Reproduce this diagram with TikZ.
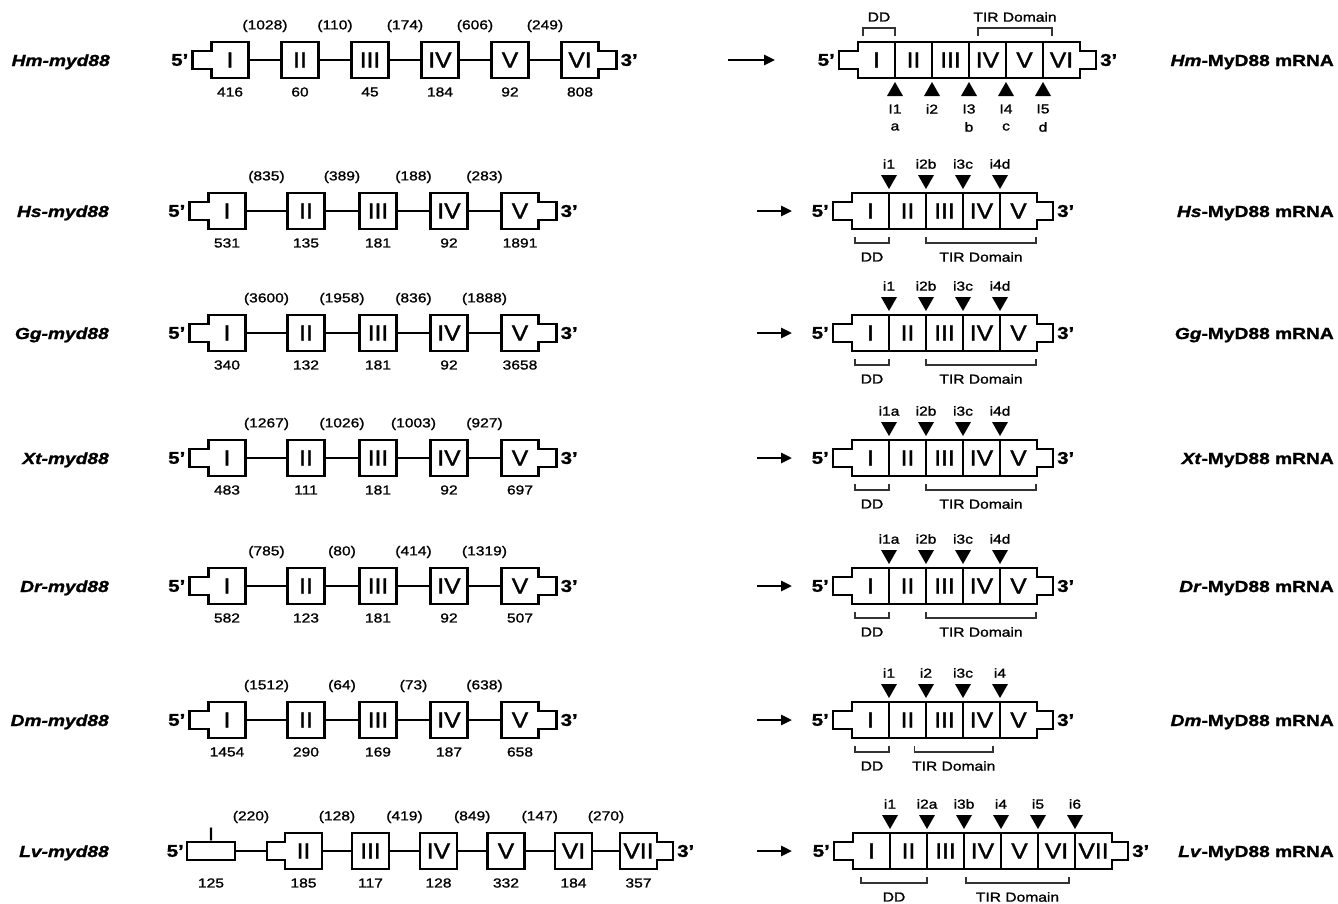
\documentclass[tikz,border=0pt]{standalone}
\usepackage{fontspec}
\setmainfont[FakeStretch=1.2, FakeBold=1.3]{Liberation Sans}
\newfontfamily\romanfam[FakeStretch=1.12, FakeBold=1.5]{Liberation Sans}
\usetikzlibrary{calc,arrows.meta}
\newcommand\romanf{\romanfam\fontsize{22}{22}\selectfont}
\newcommand\numf{\fontsize{13}{13}\selectfont}
\newcommand\labf{\fontsize{16}{16}\selectfont\bfseries}
\newcommand\smallf{\fontsize{13}{13}\selectfont}
\newcommand\primef{\fontsize{17}{17}\selectfont\bfseries}
\newcommand\lvtickf{\romanfam\fontsize{18}{18}\selectfont}
\tikzset{
 exon/.style={rectangle, draw, line width=2.8pt, minimum width=37pt, minimum height=36pt, inner sep=0pt, outer sep=0pt, font=\romanf},
 exonopen/.style={exon, draw=none},
 cell/.style={rectangle, minimum width=37pt, minimum height=36pt, inner sep=0pt, outer sep=0pt, font=\romanf},
 thinex/.style={rectangle, draw, line width=2.8pt, minimum width=48pt, minimum height=18pt, inner sep=0pt, outer sep=0pt},
 outl/.style={line width=2.8pt, line join=miter},
 divl/.style={line width=2.3pt},
 intronline/.style={line width=2.8pt},
 num/.style={font=\numf, inner sep=0pt},
 small/.style={font=\smallf, inner sep=0pt},
 prime/.style={font=\primef, inner sep=0pt},
 glab/.style={font=\labf\itshape, inner sep=0pt, anchor=base east},
 mlab/.style={font=\labf, inner sep=0pt, anchor=base east},
 brk/.style={line width=1.7pt, black!80},
 tri/.style={fill=black},
 arr/.style={line width=2.6pt, -{Triangle[length=11pt,width=10pt]}},
}
% gene exon with number below
\newcommand\gx[6][exon]{\node[#1] (#2) at (#3,#4) {#5}; \node[num] (#2-n) at ($(#2.center)+(0,32)$) {#6};}
% intron line with label
\newcommand\gi[3]{\draw[intronline] (#1.east) -- (#2.west); \node[num] (#1-i) at ($(#1.center)!0.5!(#2.center)+(0,-34)$) {#3};}
\newcommand\lstub[2]{\draw[outl] ($(#1.west)+(-#2,-9)$) -- ($(#1.west)+(0,-9)$) -- (#1.north west) -- (#1.north east) -- (#1.south east) -- (#1.south west) -- ($(#1.west)+(0,9)$) -- ($(#1.west)+(-#2,9)$) -- cycle;}
\newcommand\rstub[2]{\draw[outl] ($(#1.east)+(#2,-9)$) -- ($(#1.east)+(0,-9)$) -- (#1.north east) -- (#1.north west) -- (#1.south west) -- (#1.south east) -- ($(#1.east)+(0,9)$) -- ($(#1.east)+(#2,9)$) -- cycle;}
\newcommand\gends[2]{\lstub{#1}{19}\rstub{#2}{18}%
 \node[prime,anchor=east] (#1-5p) at ($(#1.west)+(-23,0)$) {5’};%
 \node[prime,anchor=west] (#2-3p) at ($(#2.east)+(22,0)$) {3’};}
\newcommand\fivegene[7]{%
 \gx[exonopen]{#1-g1}{227}{#2}{I}{#3}
 \gx{#1-g2}{306}{#2}{II}{#4}
 \gx{#1-g3}{378}{#2}{III}{#5}
 \gx{#1-g4}{449}{#2}{IV}{#6}
 \gx[exonopen]{#1-g5}{520}{#2}{V}{#7}
 \gends{#1-g1}{#1-g5}}
\newcommand\fiveint[5]{\gi{#1-g1}{#1-g2}{#2}\gi{#1-g2}{#1-g3}{#3}\gi{#1-g3}{#1-g4}{#4}\gi{#1-g4}{#1-g5}{#5}}
% mRNA
\newcommand\mrna[5]{%
 \foreach \rn [count=\ci] in {#4} {\node[cell] (#1-m\ci) at ({#2+37*\ci-18.5},#3) {\rn};}
 \draw[outl] ($(#1-m1.west)+(-19,-9)$) -- ($(#1-m1.west)+(0,-9)$) -- (#1-m1.north west) -- (#1-m#5.north east) -- ($(#1-m#5.east)+(0,-9)$) -- ($(#1-m#5.east)+(16,-9)$) -- ($(#1-m#5.east)+(16,9)$) -- ($(#1-m#5.east)+(0,9)$) -- (#1-m#5.south east) -- (#1-m1.south west) -- ($(#1-m1.west)+(0,9)$) -- ($(#1-m1.west)+(-19,9)$) -- cycle;
 \pgfmathtruncatemacro\mlast{#5-1}
 \foreach \ci in {1,...,\mlast} {\draw[divl] (#1-m\ci.north east) -- (#1-m\ci.south east);}
 \node[prime,anchor=east] (#1-m5p) at ($(#1-m1.west)+(-23,0)$) {5’};
 \node[prime,anchor=west] (#1-m3p) at ($(#1-m#5.east)+(20,0)$) {3’};}
\newcommand\tdown[3]{\fill[tri] ($(#1)+(0,-4)$) -- ++(-8,-14) -- ++(16,0) -- cycle; \node[small] (#3) at ($(#1)+(0,-29)$) {#2};}
\newcommand\tup[3]{\fill[tri] ($(#1)+(0,4)$) -- ++(-8,14) -- ++(16,0) -- cycle; \node[small] (#3) at ($(#1)+(0,31)$) {#2};}
\newcommand\bbrk[4]{\coordinate (#1-a) at #2; \coordinate (#1-b) at #3; \draw[brk] (#1-a) -- ++(0,6) -| (#1-b); \node[small] (#1) at ($(#1-a)!0.5!(#1-b)+(0,20)$) {#4};}
\newcommand\abrk[4]{\coordinate (#1-a) at #2; \coordinate (#1-b) at #3; \draw[brk] (#1-a) -- ++(0,-8) -| (#1-b); \node[small] (#1) at ($(#1-a)!0.5!(#1-b)+(0,-19)$) {#4};}
\newcommand\stdbrk[1]{%
 \bbrk{#1-dd}{($(#1-m1.south west)+(3,8)$)}{($(#1-m1.south east)+(0,8)$)}{DD}
 \bbrk{#1-tir}{($(#1-m2.south east)+(0,8)$)}{($(#1-m5.south east)+(-1,8)$)}{TIR Domain}}
\newcommand\arrow[2]{\coordinate (#1-a1) at (757,#2); \coordinate (#1-a2) at (792,#2); \draw[arr] (#1-a1) -- (#1-a2);}

\begin{document}
\begin{tikzpicture}[x=1pt,y=-1pt]
\useasboundingbox (0,0) rectangle (1338,903);
\fill[white] (0,0) rectangle (1338,903);

%%%%%%%%%%%% Hm row
\node[glab] (hm-lab) at (110,66) {Hm-myd88};
\gx[exonopen]{hm-g1}{230}{60}{I}{416}
\gx{hm-g2}{300}{60}{II}{60}
\gx{hm-g3}{370}{60}{III}{45}
\gx{hm-g4}{440}{60}{IV}{184}
\gx{hm-g5}{510}{60}{V}{92}
\gx[exonopen]{hm-g6}{580}{60}{VI}{808}
\gends{hm-g1}{hm-g6}
\gi{hm-g1}{hm-g2}{(1028)}
\gi{hm-g2}{hm-g3}{(110)}
\gi{hm-g3}{hm-g4}{(174)}
\gi{hm-g4}{hm-g5}{(606)}
\gi{hm-g5}{hm-g6}{(249)}
\coordinate (hm-a1) at (728,60); \coordinate (hm-a2) at (775,60);
\draw[arr] (hm-a1) -- (hm-a2);
\mrna{hm}{858}{60}{I,II,III,IV,V,VI}{6}
\abrk{hm-dd}{($(hm-m1.north west)+(5,-6)$)}{($(hm-m1.north east)+(0,-6)$)}{DD}
\abrk{hm-tir}{($(hm-m3.north east)+(9,-6)$)}{($(hm-m5.north east)+(9,-6)$)}{TIR Domain}
\tup{hm-m1.south east}{I1}{hm-t1}
\tup{hm-m2.south east}{i2}{hm-t2}
\tup{hm-m3.south east}{I3}{hm-t3}
\tup{hm-m4.south east}{I4}{hm-t4}
\tup{hm-m5.south east}{I5}{hm-t5}
\node[small] (hm-la) at ($(hm-m1.south east)+(0,49)$) {a};
\node[small] (hm-lb) at ($(hm-m3.south east)+(0,49)$) {b};
\node[small] (hm-lc) at ($(hm-m4.south east)+(0,49)$) {c};
\node[small] (hm-ld) at ($(hm-m5.south east)+(0,49)$) {d};
\node[mlab] (hm-mlab) at (1334,66) {\textit{Hm}-MyD88 mRNA};

%%%%%%%%%%%% Hs row
\node[glab] (hs-lab) at (109,217) {Hs-myd88};
\fivegene{hs}{211}{531}{135}{181}{92}{1891}
\fiveint{hs}{(835)}{(389)}{(188)}{(283)}
\arrow{hs}{211}
\mrna{hs}{852}{211}{I,II,III,IV,V}{5}
\tdown{hs-m1.north east}{i1}{hs-t1}
\tdown{hs-m2.north east}{i2b}{hs-t2}
\tdown{hs-m3.north east}{i3c}{hs-t3}
\tdown{hs-m4.north east}{i4d}{hs-t4}
\stdbrk{hs}
\node[mlab] (hs-mlab) at (1334,217) {\textit{Hs}-MyD88 mRNA};

%%%%%%%%%%%% Gg row
\node[glab] (gg-lab) at (109,339) {Gg-myd88};
\fivegene{gg}{333}{340}{132}{181}{92}{3658}
\fiveint{gg}{(3600)}{(1958)}{(836)}{(1888)}
\arrow{gg}{333}
\mrna{gg}{852}{333}{I,II,III,IV,V}{5}
\tdown{gg-m1.north east}{i1}{gg-t1}
\tdown{gg-m2.north east}{i2b}{gg-t2}
\tdown{gg-m3.north east}{i3c}{gg-t3}
\tdown{gg-m4.north east}{i4d}{gg-t4}
\stdbrk{gg}
\node[mlab] (gg-mlab) at (1334,339) {\textit{Gg}-MyD88 mRNA};

%%%%%%%%%%%% Xt row
\node[glab] (xt-lab) at (109,464) {Xt-myd88};
\fivegene{xt}{458}{483}{111}{181}{92}{697}
\fiveint{xt}{(1267)}{(1026)}{(1003)}{(927)}
\arrow{xt}{458}
\mrna{xt}{852}{458}{I,II,III,IV,V}{5}
\tdown{xt-m1.north east}{i1a}{xt-t1}
\tdown{xt-m2.north east}{i2b}{xt-t2}
\tdown{xt-m3.north east}{i3c}{xt-t3}
\tdown{xt-m4.north east}{i4d}{xt-t4}
\stdbrk{xt}
\node[mlab] (xt-mlab) at (1334,464) {\textit{Xt}-MyD88 mRNA};

%%%%%%%%%%%% Dr row
\node[glab] (dr-lab) at (109,592) {Dr-myd88};
\fivegene{dr}{586}{582}{123}{181}{92}{507}
\fiveint{dr}{(785)}{(80)}{(414)}{(1319)}
\arrow{dr}{586}
\mrna{dr}{852}{586}{I,II,III,IV,V}{5}
\tdown{dr-m1.north east}{i1a}{dr-t1}
\tdown{dr-m2.north east}{i2b}{dr-t2}
\tdown{dr-m3.north east}{i3c}{dr-t3}
\tdown{dr-m4.north east}{i4d}{dr-t4}
\stdbrk{dr}
\node[mlab] (dr-mlab) at (1334,592) {\textit{Dr}-MyD88 mRNA};

%%%%%%%%%%%% Dm row
\node[glab] (dm-lab) at (109,726) {Dm-myd88};
\fivegene{dm}{720}{1454}{290}{169}{187}{658}
\fiveint{dm}{(1512)}{(64)}{(73)}{(638)}
\arrow{dm}{720}
\mrna{dm}{852}{720}{I,II,III,IV,V}{5}
\tdown{dm-m1.north east}{i1}{dm-t1}
\tdown{dm-m2.north east}{i2}{dm-t2}
\tdown{dm-m3.north east}{i3c}{dm-t3}
\tdown{dm-m4.north east}{i4}{dm-t4}
\bbrk{dm-dd}{($(dm-m1.south west)+(3,8)$)}{($(dm-m1.south east)+(0,8)$)}{DD}
\bbrk{dm-tir}{($(dm-m2.south)+(7,8)$)}{($(dm-m4.south east)+(-7,8)$)}{TIR Domain}
\node[mlab] (dm-mlab) at (1334,726) {\textit{Dm}-MyD88 mRNA};

%%%%%%%%%%%% Lv row
\node[glab] (lv-lab) at (109,857) {Lv-myd88};
\node[thinex] (lv-g1) at (211,851) {};
\node[font=\lvtickf, inner sep=0pt] (lv-g1t) at (211,834) {I};
\node[num] (lv-g1-n) at (211,883) {125};
\gx[exonopen]{lv-g2}{303.5}{851}{II}{185}
\gx{lv-g3}{370.5}{851}{III}{117}
\gx{lv-g4}{438.5}{851}{IV}{128}
\gx{lv-g5}{506}{851}{V}{332}
\gx{lv-g6}{573.5}{851}{VI}{184}
\gx[exonopen]{lv-g7}{638.5}{851}{VII}{357}
\lstub{lv-g2}{18}
\rstub{lv-g7}{16}
\coordinate (lv-s2) at ($(lv-g2.west)+(-18,0)$);
\draw[intronline] (lv-g1.east) -- (lv-s2);
\node[num] (lv-g1-i) at ($(lv-g1.east)!0.5!(lv-s2)+(0,-34)$) {(220)};
\gi{lv-g2}{lv-g3}{(128)}
\gi{lv-g3}{lv-g4}{(419)}
\gi{lv-g4}{lv-g5}{(849)}
\gi{lv-g5}{lv-g6}{(147)}
\gi{lv-g6}{lv-g7}{(270)}
\node[prime,anchor=east] (lv-5p) at ($(lv-g1.west)+(-3,0)$) {5’};
\node[prime,anchor=west] (lv-3p) at ($(lv-g7.east)+(20,0)$) {3’};
\arrow{lv}{851}
\mrna{lv}{853}{851}{I,II,III,IV,V,VI,VII}{7}
\tdown{lv-m1.north east}{i1}{lv-t1}
\tdown{lv-m2.north east}{i2a}{lv-t2}
\tdown{lv-m3.north east}{i3b}{lv-t3}
\tdown{lv-m4.north east}{i4}{lv-t4}
\tdown{lv-m5.north east}{i5}{lv-t5}
\tdown{lv-m6.north east}{i6}{lv-t6}
\bbrk{lv-dd}{($(lv-m1.south west)+(8,8)$)}{($(lv-m2.south east)+(0,8)$)}{DD}
\bbrk{lv-tir}{($(lv-m3.south east)+(2,8)$)}{($(lv-m6.south east)+(-6,8)$)}{TIR Domain}
\node[mlab] (lv-mlab) at (1334,857) {\textit{Lv}-MyD88 mRNA};
\end{tikzpicture}
\end{document}
